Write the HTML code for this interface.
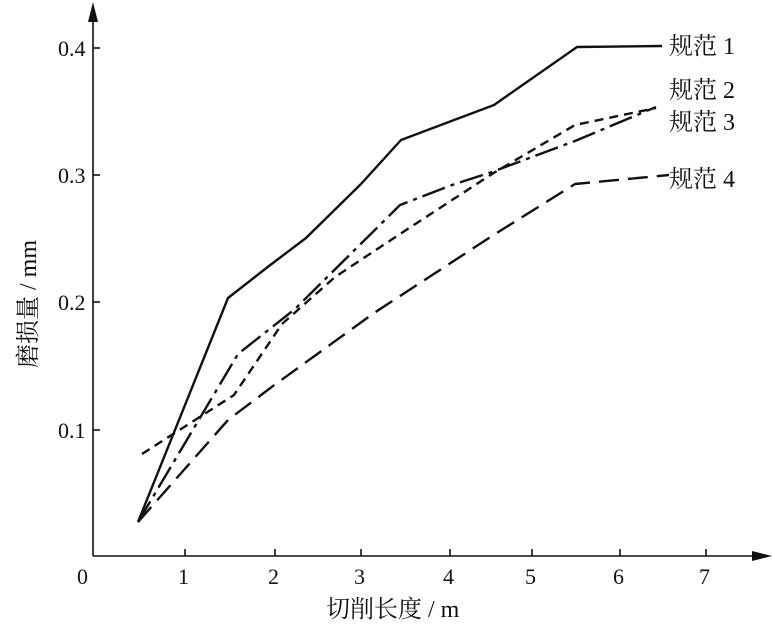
<!DOCTYPE html>
<html><head><meta charset="utf-8"><style>
html,body{margin:0;padding:0;background:#fff;}
svg{display:block;}
text{font-family:"Liberation Serif","Noto Serif CJK SC","Noto Sans CJK SC",serif;fill:#111;}
</style></head><body>
<svg width="772" height="625" viewBox="0 0 772 625" xmlns="http://www.w3.org/2000/svg">
<g stroke="#111" stroke-width="1.6" fill="none">
<line x1="93" y1="556" x2="93" y2="8"/>
<line x1="93" y1="556" x2="765" y2="556"/>
<line x1="93" y1="48" x2="100" y2="48"/>
<line x1="93" y1="175" x2="100" y2="175"/>
<line x1="93" y1="302" x2="100" y2="302"/>
<line x1="93" y1="430" x2="100" y2="430"/>
<line x1="185" y1="556" x2="185" y2="549"/>
<line x1="275" y1="556" x2="275" y2="549"/>
<line x1="361" y1="556" x2="361" y2="549"/>
<line x1="450" y1="556" x2="450" y2="549"/>
<line x1="532" y1="556" x2="532" y2="549"/>
<line x1="620" y1="556" x2="620" y2="549"/>
<line x1="706" y1="556" x2="706" y2="549"/>
</g>
<polygon points="93,2 88,22 98,22" fill="#111"/>
<polygon points="772,556 752,551 752,561" fill="#111"/>
<g stroke="#111" stroke-width="2.4" fill="none" stroke-linejoin="round">
<polyline points="138,522 228,298 269,266 306,238 361,184 401,140 494,105 577,47 662,46"/>
<polyline stroke-dasharray="9,6" points="142,454 234,395 282,324 335,277 400,234 492,174 575,125 656,108"/>
<polyline stroke-dasharray="24,6,4,6" points="138,522 238,354 295,309 400,205 452,185 492,172 575,141 656,107"/>
<polyline stroke-dasharray="20,9" points="138,522 228,420 273,386 374,313 492,236 575,184 669,175"/>
</g>
<g font-size="22">
<text x="58" y="56">0.4</text>
<text x="58" y="183">0.3</text>
<text x="58" y="310">0.2</text>
<text x="58" y="438">0.1</text>
<text x="77" y="584">0</text>
<text x="178" y="584">1</text>
<text x="268" y="584">2</text>
<text x="354" y="584">3</text>
<text x="443" y="584">4</text>
<text x="525" y="584">5</text>
<text x="613" y="584">6</text>
<text x="699" y="584">7</text>
</g>
<g font-size="24">
<text x="669" y="54">规范 1</text>
<text x="669" y="98">规范 2</text>
<text x="669" y="130">规范 3</text>
<text x="669" y="187">规范 4</text>
<text x="326" y="617">切削长度 / m</text>
<text transform="translate(36,368) rotate(-90)">磨损量 / mm</text>
</g>
</svg>
</body></html>
